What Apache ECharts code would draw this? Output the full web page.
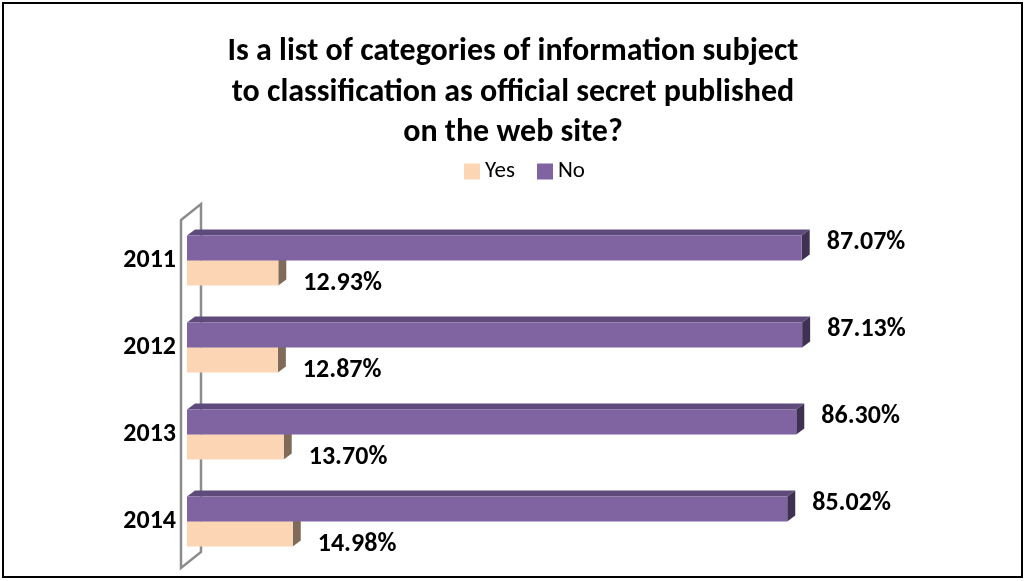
<!DOCTYPE html>
<html><head><meta charset="utf-8">
<script src="https://cdn.jsdelivr.net/npm/echarts@6/dist/echarts.min.js"></script>
<style>html,body{margin:0;padding:0;background:#fff}#c{width:1026px;height:581px}</style>
</head><body><div id="c"></div>
<script>
const categories = ['2011', '2012', '2013', '2014'];
const yesValues = [12.93, 12.87, 13.70, 14.98];
const noValues = [87.07, 87.13, 86.30, 85.02];
const seriesNames = ['Yes', 'No'];
const titleText = 'Is a list of categories of information subject\nto classification as official secret published\non the web site?';

const FONT = 'Carlito, "Liberation Sans", Arial, sans-serif';
const COLORS = {
  Yes: { front: '#fcd5b5', top: '#e3bfa2', side: '#7f6b58' },
  No:  { front: '#8064a2', top: '#5f4b7b', side: '#3f3152' }
};
const BAR_H = 25, DX = 8, DY = -6;

function makeRender(name) {
  const col = COLORS[name];
  return function (params, api) {
    const cat = api.value(0);
    const val = api.value(1);
    const p0 = api.coord([0, cat]);
    const p1 = api.coord([val, cat]);
    const yc = p0[1];
    const yt = name === 'No' ? yc - BAR_H : yc;
    const yb = yt + BAR_H;
    const x0 = p0[0], x1 = p1[0];
    const children = [];
    if (name === 'Yes' && params.dataIndex === 0) {
      const cs = params.coordSys;
      const lx = cs.x - 6, rx = cs.x + 14;
      const ty = cs.y + 3, by = cs.y + cs.height + 3;
      children.push({
        type: 'polygon',
        shape: { points: [[lx, ty], [rx, ty - 16], [rx, by - 16], [lx, by]] },
        style: { fill: 'none', stroke: '#8c8c8c', lineWidth: 2.5 },
        silent: true
      });
    }
    children.push({
      type: 'polygon',
      shape: { points: [[x0, yt], [x1, yt], [x1 + DX, yt + DY], [x0 + DX, yt + DY]] },
      style: { fill: col.top }
    });
    children.push({
      type: 'polygon',
      shape: { points: [[x1, yt], [x1, yb], [x1 + DX, yb + DY], [x1 + DX, yt + DY]] },
      style: { fill: col.side }
    });
    children.push({
      type: 'rect',
      shape: { x: x0, y: yt, width: x1 - x0, height: BAR_H },
      style: { fill: col.front }
    });
    children.push({
      type: 'text',
      x: x1 + 25,
      y: name === 'No' ? yc - 18.5 : yc + 23,
      style: {
        text: val.toFixed(2) + '%',
        fill: '#000',
        font: 'bold 26px ' + FONT,
        verticalAlign: 'middle',
        align: 'left'
      }
    });
    return { type: 'group', children: children };
  };
}

const chart = echarts.init(document.getElementById('c'));
chart.setOption({
  animation: false,
  backgroundColor: '#fff',
  title: {
    text: titleText,
    left: 'center',
    top: 27,
    textStyle: { fontFamily: FONT, fontWeight: 'bold', fontSize: 32, lineHeight: 40.5, color: '#000' }
  },
  legend: {
    data: seriesNames,
    top: 155,
    left: 459,
    itemWidth: 16,
    itemHeight: 16,
    itemGap: 22,
    icon: 'rect',
    textStyle: { fontFamily: FONT, fontSize: 23, color: '#000' }
  },
  grid: { left: 187, top: 217, width: 706, height: 348, containLabel: false },
  xAxis: { type: 'value', min: 0, max: 100, show: false },
  yAxis: {
    type: 'category',
    data: categories,
    inverse: true,
    axisLine: { show: false },
    axisTick: { show: false },
    axisLabel: {
      margin: 11,
      fontFamily: FONT, fontWeight: 'bold', fontSize: 26, color: '#000',
      padding: [8, 0, 0, 0]
    }
  },
  series: [
    {
      name: 'Yes', type: 'custom', z: 2,
      itemStyle: { color: COLORS.Yes.front },
      encode: { x: 1, y: 0 },
      data: yesValues.map((v, i) => [i, v]),
      renderItem: makeRender('Yes')
    },
    {
      name: 'No', type: 'custom', z: 3,
      itemStyle: { color: COLORS.No.front },
      encode: { x: 1, y: 0 },
      data: noValues.map((v, i) => [i, v]),
      renderItem: makeRender('No')
    }
  ],
  graphic: [{
    type: 'rect', silent: true, z: 100,
    shape: { x: 3, y: 3, width: 1019, height: 574 },
    style: { fill: 'none', stroke: '#000', lineWidth: 2 }
  }]
});
</script></body></html>
